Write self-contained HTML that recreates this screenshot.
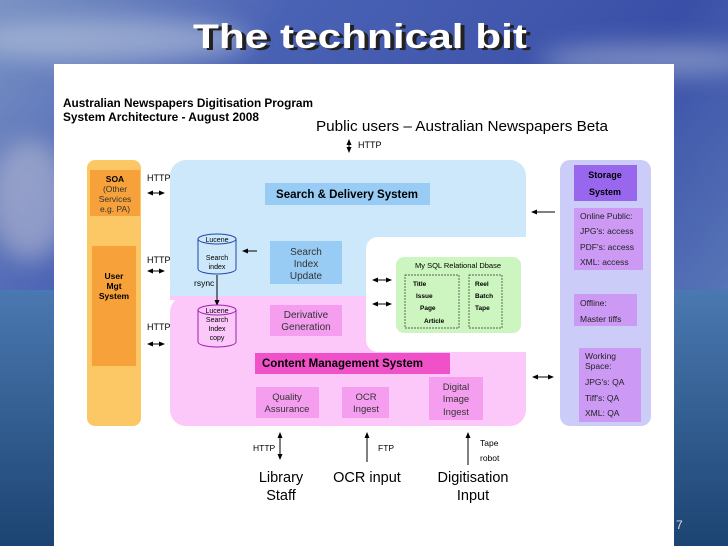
<!DOCTYPE html>
<html><head><meta charset="utf-8"><style>
html,body{margin:0;padding:0;width:728px;height:546px;overflow:hidden}
svg{display:block}
text{font-family:"Liberation Sans",Arial,sans-serif}
</style></head><body>
<svg width="728" height="546" viewBox="0 0 728 546" xmlns="http://www.w3.org/2000/svg">
<defs>
<linearGradient id="sky" x1="0" y1="0" x2="1" y2="0.6">
<stop offset="0" stop-color="#7a93c4"/><stop offset="0.3" stop-color="#4a62b4"/><stop offset="0.7" stop-color="#3a50a8"/><stop offset="1" stop-color="#5a78b8"/>
</linearGradient>
<linearGradient id="sea" x1="0" y1="0" x2="0" y2="1">
<stop offset="0" stop-color="#4a78b0"/><stop offset="1" stop-color="#1c4472"/>
</linearGradient>
<filter id="bl"><feGaussianBlur stdDeviation="12"/></filter>
<marker id="ah" markerWidth="6" markerHeight="6" refX="5" refY="3" orient="auto" markerUnits="userSpaceOnUse"><path d="M0,0.5 L6,3 L0,5.5 z" fill="#000"/></marker>
<marker id="ahs" markerWidth="6" markerHeight="6" refX="1" refY="3" orient="auto" markerUnits="userSpaceOnUse"><path d="M6,0.5 L0,3 L6,5.5 z" fill="#000"/></marker>
</defs>
<rect width="728" height="546" fill="url(#sky)"/>
<rect y="290" width="728" height="256" fill="url(#sea)"/>
<g filter="url(#bl)">
<ellipse cx="110" cy="40" rx="140" ry="22" fill="#b8c4dc" opacity="0.6"/>
<ellipse cx="650" cy="60" rx="110" ry="16" fill="#b8c4dc" opacity="0.5"/>
<ellipse cx="30" cy="200" rx="40" ry="60" fill="#c8c8d8" opacity="0.5"/>
</g>
<text x="195" y="48" font-family="DejaVu Sans" font-weight="bold" font-size="34" fill="#222" textLength="334" lengthAdjust="spacingAndGlyphs" transform="translate(2,2)">The technical bit</text>
<text x="193" y="48" font-family="DejaVu Sans" font-weight="bold" font-size="34" fill="#fff" textLength="334" lengthAdjust="spacingAndGlyphs">The technical bit</text>
<rect x="54" y="64" width="620" height="482" fill="#fff"/>
<text x="676" y="529" font-size="12" fill="#dde">7</text>

<text x="63" y="107" font-size="11.5" font-weight="bold" textLength="250" lengthAdjust="spacingAndGlyphs">Australian Newspapers Digitisation Program</text>
<text x="63" y="121" font-size="11.5" font-weight="bold" textLength="196" lengthAdjust="spacingAndGlyphs">System Architecture - August 2008</text>
<text x="316" y="131" font-size="15" textLength="292" lengthAdjust="spacingAndGlyphs">Public users – Australian Newspapers Beta</text>
<line x1="349" y1="140" x2="349" y2="152" stroke="#000" marker-end="url(#ah)" marker-start="url(#ahs)"/>
<text x="358" y="148" font-size="9">HTTP</text>

<rect x="87" y="160" width="54" height="266" rx="8" fill="#fcc865"/>
<rect x="90" y="170" width="50" height="46" fill="#f7a13a"/>
<text x="115" y="182" font-size="8.5" font-weight="bold" text-anchor="middle">SOA</text>
<text x="115" y="192" font-size="8.5" text-anchor="middle" fill="#333">(Other</text>
<text x="115" y="202" font-size="8.5" text-anchor="middle" fill="#333">Services</text>
<text x="115" y="212" font-size="8.5" text-anchor="middle" fill="#333">e.g. PA)</text>
<rect x="92" y="246" width="44" height="120" fill="#f7a13a"/>
<text x="114" y="279" font-size="8.5" font-weight="bold" text-anchor="middle">User</text>
<text x="114" y="289" font-size="8.5" font-weight="bold" text-anchor="middle">Mgt</text>
<text x="114" y="299" font-size="8.5" font-weight="bold" text-anchor="middle">System</text>

<text x="147" y="181" font-size="9">HTTP</text>
<line x1="148" y1="193" x2="164" y2="193" stroke="#000" marker-end="url(#ah)" marker-start="url(#ahs)"/>
<text x="147" y="263" font-size="9">HTTP</text>
<line x1="148" y1="271" x2="164" y2="271" stroke="#000" marker-end="url(#ah)" marker-start="url(#ahs)"/>
<text x="147" y="330" font-size="9">HTTP</text>
<line x1="148" y1="344" x2="164" y2="344" stroke="#000" marker-end="url(#ah)" marker-start="url(#ahs)"/>

<rect x="170" y="160" width="356" height="138" rx="16" fill="#cce8fa"/>
<rect x="170" y="296" width="356" height="130" rx="16" fill="#fcc8fa"/>
<rect x="170" y="292" width="196" height="8" fill="#fcc8fa"/>
<rect x="170" y="285" width="196" height="11" fill="#cce8fa"/>
<rect x="366" y="237" width="164" height="115" rx="12" fill="#fff"/>
<rect x="400" y="237" width="130" height="115" fill="#fff"/>

<rect x="265" y="183" width="165" height="22" fill="#99ccf5"/>
<text x="347" y="198" font-size="11.5" font-weight="bold" text-anchor="middle">Search &amp; Delivery System</text>

<path d="M198,239 v30 a19,5 0 0 0 38,0 v-30" fill="#cce8fa" stroke="#2244aa"/>
<ellipse cx="217" cy="239" rx="19" ry="5" fill="#cce8fa" stroke="#2244aa"/>
<text x="217" y="242" font-size="7" text-anchor="middle">Lucene</text>
<text x="217" y="260" font-size="7" text-anchor="middle">Search</text>
<text x="217" y="269" font-size="7" text-anchor="middle">index</text>
<line x1="257" y1="251" x2="243" y2="251" stroke="#000" marker-end="url(#ah)"/>
<text x="194" y="286" font-size="8.5">rsync</text>
<line x1="217" y1="275" x2="217" y2="305" stroke="#000" marker-end="url(#ah)"/>

<rect x="270" y="241" width="72" height="43" fill="#99ccf5"/>
<text x="306" y="255" font-size="10" text-anchor="middle" fill="#333">Search</text>
<text x="306" y="267" font-size="10" text-anchor="middle" fill="#333">Index</text>
<text x="306" y="279" font-size="10" text-anchor="middle" fill="#333">Update</text>

<path d="M198,310 v32 a19,5 0 0 0 38,0 v-32" fill="#fcc8fa" stroke="#9922aa"/>
<ellipse cx="217" cy="310" rx="19" ry="5" fill="#fcc8fa" stroke="#9922aa"/>
<text x="217" y="313" font-size="7" text-anchor="middle">Lucene</text>
<text x="217" y="322" font-size="7" text-anchor="middle">Search</text>
<text x="217" y="331" font-size="7" text-anchor="middle">Index</text>
<text x="217" y="340" font-size="7" text-anchor="middle">copy</text>

<rect x="270" y="305" width="72" height="31" fill="#f59ef0"/>
<text x="306" y="318" font-size="10" text-anchor="middle" fill="#333">Derivative</text>
<text x="306" y="330" font-size="10" text-anchor="middle" fill="#333">Generation</text>

<line x1="373" y1="280" x2="391" y2="280" stroke="#000" marker-end="url(#ah)" marker-start="url(#ahs)"/>
<line x1="373" y1="304" x2="391" y2="304" stroke="#000" marker-end="url(#ah)" marker-start="url(#ahs)"/>
<rect x="396" y="257" width="125" height="76" rx="8" fill="#ccf5c0"/>
<text x="458" y="268" font-size="7.5" text-anchor="middle">My SQL Relational Dbase</text>
<rect x="405" y="275" width="54" height="53" fill="none" stroke="#333" stroke-width="0.7" stroke-dasharray="2,1"/>
<rect x="469" y="275" width="33" height="53" fill="none" stroke="#333" stroke-width="0.7" stroke-dasharray="2,1"/>
<text x="413" y="286" font-size="6.5" font-weight="bold">Title</text>
<text x="416" y="298" font-size="6.5" font-weight="bold">Issue</text>
<text x="420" y="310" font-size="6.5" font-weight="bold">Page</text>
<text x="424" y="323" font-size="6.5" font-weight="bold">Article</text>
<text x="475" y="286" font-size="6.5" font-weight="bold">Reel</text>
<text x="475" y="298" font-size="6.5" font-weight="bold">Batch</text>
<text x="475" y="310" font-size="6.5" font-weight="bold">Tape</text>

<rect x="255" y="353" width="195" height="21" fill="#f050c8"/>
<text x="262" y="367" font-size="11.5" font-weight="bold">Content Management System</text>
<rect x="256" y="387" width="63" height="31" fill="#f59ef0"/>
<text x="287" y="400" font-size="9.5" text-anchor="middle" fill="#333">Quality</text>
<text x="287" y="412" font-size="9.5" text-anchor="middle" fill="#333">Assurance</text>
<rect x="342" y="387" width="47" height="31" fill="#f59ef0"/>
<text x="366" y="400" font-size="9.5" text-anchor="middle" fill="#333">OCR</text>
<text x="366" y="412" font-size="9.5" text-anchor="middle" fill="#333">Ingest</text>
<rect x="429" y="377" width="54" height="43" fill="#f59ef0"/>
<text x="456" y="390" font-size="9.5" text-anchor="middle" fill="#333">Digital</text>
<text x="456" y="402" font-size="9.5" text-anchor="middle" fill="#333">Image</text>
<text x="456" y="415" font-size="9.5" text-anchor="middle" fill="#333">Ingest</text>

<line x1="555" y1="212" x2="532" y2="212" stroke="#000" marker-end="url(#ah)"/>
<line x1="533" y1="377" x2="553" y2="377" stroke="#000" marker-end="url(#ah)" marker-start="url(#ahs)"/>
<rect x="560" y="160" width="91" height="266" rx="10" fill="#ccccf8"/>
<rect x="574" y="165" width="63" height="36" fill="#9966ee"/>
<text x="605" y="178" font-size="9" font-weight="bold" text-anchor="middle">Storage</text>
<text x="605" y="195" font-size="9" font-weight="bold" text-anchor="middle">System</text>
<rect x="574" y="208" width="69" height="62" fill="#cc99f5"/>
<text x="580" y="219" font-size="8.5" fill="#222">Online Public:</text>
<text x="580" y="234" font-size="8.5" fill="#222">JPG's: access</text>
<text x="580" y="250" font-size="8.5" fill="#222">PDF's: access</text>
<text x="580" y="265" font-size="8.5" fill="#222">XML: access</text>
<rect x="574" y="294" width="63" height="32" fill="#cc99f5"/>
<text x="580" y="306" font-size="8.5" fill="#222">Offline:</text>
<text x="580" y="322" font-size="8.5" fill="#222">Master tiffs</text>
<rect x="579" y="348" width="62" height="74" fill="#cc99f5"/>
<text x="585" y="359" font-size="8.5" fill="#222">Working</text>
<text x="585" y="369" font-size="8.5" fill="#222">Space:</text>
<text x="585" y="385" font-size="8.5" fill="#222">JPG's: QA</text>
<text x="585" y="401" font-size="8.5" fill="#222">Tiff's: QA</text>
<text x="585" y="416" font-size="8.5" fill="#222">XML: QA</text>

<line x1="280" y1="433" x2="280" y2="459" stroke="#000" marker-end="url(#ah)" marker-start="url(#ahs)"/>
<text x="253" y="451" font-size="8.5">HTTP</text>
<line x1="367" y1="462" x2="367" y2="433" stroke="#000" marker-end="url(#ah)"/>
<text x="378" y="451" font-size="8.5">FTP</text>
<line x1="468" y1="465" x2="468" y2="433" stroke="#000" marker-end="url(#ah)"/>
<text x="480" y="446" font-size="8.5">Tape</text>
<text x="480" y="461" font-size="8.5">robot</text>
<text x="281" y="482" font-size="14.5" text-anchor="middle">Library</text>
<text x="281" y="500" font-size="14.5" text-anchor="middle">Staff</text>
<text x="367" y="482" font-size="14.5" text-anchor="middle">OCR input</text>
<text x="473" y="482" font-size="14.5" text-anchor="middle">Digitisation</text>
<text x="473" y="500" font-size="14.5" text-anchor="middle">Input</text>
</svg>
</body></html>
